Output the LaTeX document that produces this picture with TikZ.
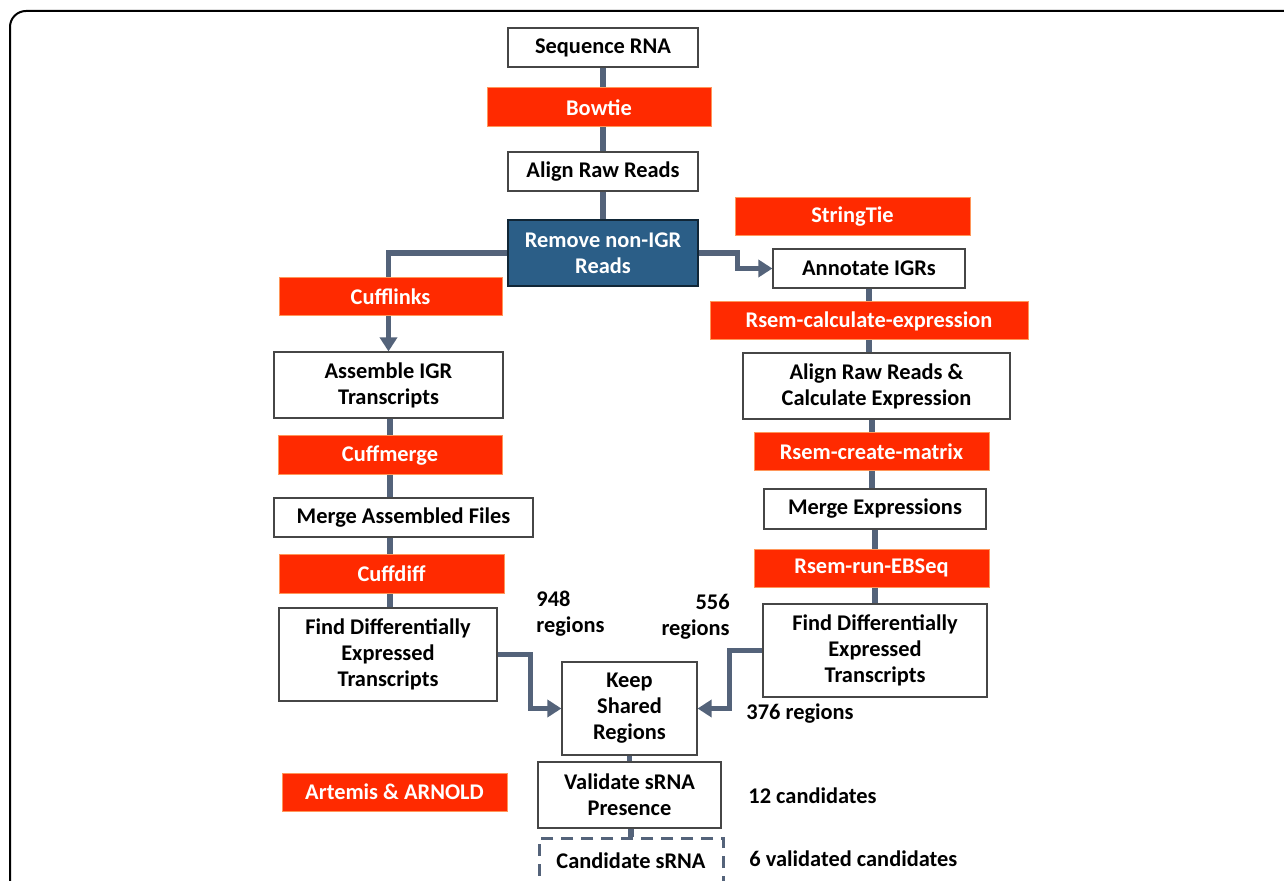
\documentclass[tikz,border=0pt]{standalone}
\usepackage{fontspec}
\setmainfont{Carlito}
\usetikzlibrary{arrows.meta}
\definecolor{redbox}{RGB}{255,42,0}
\definecolor{redborder}{RGB}{255,150,90}
\definecolor{bluebox}{RGB}{43,94,135}
\definecolor{linkcol}{RGB}{84,99,122}
\definecolor{boxline}{RGB}{70,70,70}
\begin{document}
\begin{tikzpicture}[x=0.5pt,y=-0.5pt,
 every node/.style={font=\bfseries\fontsize{11.2}{13}\selectfont, inner sep=0pt, align=center},
 wbox/.style={draw=boxline, line width=0.6pt, fill=white},
 rbox/.style={fill=redbox, draw=redborder, line width=0.5pt, text=white},
 bluebx/.style={fill=bluebox, draw=black!60!bluebox, line width=0.6pt, text=white},
 dbox/.style={draw=linkcol, line width=1.5pt, dash pattern=on 6pt off 4pt, fill=white},
 link/.style={draw=linkcol, line width=2.6pt},
 arr/.style={link, -{Triangle[length=7pt,width=8.5pt]}}]
\useasboundingbox (0,0) rectangle (1284,881);
\draw[line width=1pt, rounded corners=8pt] (10,11) rectangle (1330,930);

% white / blue boxes
\node[wbox, minimum width=95pt, minimum height=19.5pt] (seq) at (603,47.5) {Sequence RNA};
\node[wbox, minimum width=95pt, minimum height=19.5pt] (align) at (603,171.5) {Align Raw Reads};
\node[bluebx, minimum width=95pt, minimum height=33pt] (remove) at (603,253) {Remove non-IGR\\Reads};
\node[wbox, minimum width=96pt, minimum height=19.5pt] (annot) at (869,268.5) {Annotate IGRs};
\node[wbox, minimum width=133.5pt, minimum height=33pt] (aligncalc) at (876.5,386) {Align Raw Reads \&\\Calculate Expression};
\node[wbox, minimum width=111pt, minimum height=20pt] (mergeexpr) at (875,509) {Merge Expressions};
\node[wbox, minimum width=112pt, minimum height=46.5pt] (findR) at (875,650.5) {Find Differentially\\Expressed\\Transcripts};
\node[wbox, minimum width=114.5pt, minimum height=33pt] (assemble) at (388.5,385) {Assemble IGR\\Transcripts};
\node[wbox, minimum width=129.5pt, minimum height=19.5pt] (mergeasm) at (403.5,517.5) {Merge Assembled Files};
\node[wbox, minimum width=109pt, minimum height=46.5pt] (findL) at (388,654.5) {Find Differentially\\Expressed\\Transcripts};
\node[wbox, minimum width=67.5pt, minimum height=46.5pt] (keep) at (629.5,708.5) {Keep\\Shared\\Regions};
\node[wbox, minimum width=91.5pt, minimum height=33pt] (validate) at (629.5,795) {Validate sRNA\\Presence};
\node[dbox, minimum width=92pt, minimum height=23pt] (cand) at (631,861) {Candidate sRNA};

\coordinate (xl) at (390,0);
\coordinate (xr) at (872,0);

% connectors
\draw[link] (seq) -- (align);
\draw[link] (align) -- (remove);
\draw[arr] (remove.west) -| (assemble.north);
\draw[arr] (remove.east) -- ([xshift=19.5pt]remove.east) |- (annot.west);
\draw[link] (annot.south) -- (annot.south |- aligncalc.north);
\draw[link] (xr |- aligncalc.south) -- (xr |- mergeexpr.north);
\draw[link] (mergeexpr) -- (findR);
\draw[arr] (findR.west) -- ([xshift=-16.5pt]findR.west) |- (keep.east);
\draw[arr] (findL.east) -- ([xshift=16.5pt]findL.east) |- (keep.west);
\draw[link] (xl |- assemble.south) -- (xl |- mergeasm.north);
\draw[link] (xl |- mergeasm.south) -- (xl |- findL.north);
\draw[link] (keep) -- (validate);
\draw[link] (cand.north |- validate.south) -- (cand.north);

% red tool boxes
\node[rbox, minimum width=112pt, minimum height=19.5pt] (bowtie) at (599,107.5) {Bowtie};
\node[rbox, minimum width=111.5pt, minimum height=19pt] (cufflinks) at (390.5,297) {Cufflinks};
\node[rbox, minimum width=117.5pt, minimum height=19pt] (stringtie) at (852.5,217) {StringTie};
\node[rbox, minimum width=159pt, minimum height=19pt] (rsemcalc) at (869,321) {Rsem-calculate-expression};
\node[rbox, minimum width=117.5pt, minimum height=19pt] (rsemcreate) at (871.5,452) {Rsem-create-matrix};
\node[rbox, minimum width=117.5pt, minimum height=19pt] (ebseq) at (871.5,568) {Rsem-run-EBSeq};
\node[rbox, minimum width=112pt, minimum height=19.5pt] (cuffmerge) at (390,455.5) {Cuffmerge};
\node[rbox, minimum width=112.5pt, minimum height=19.5pt] (cuffdiff) at (391.5,573.5) {Cuffdiff};
\node[rbox, minimum width=112.5pt, minimum height=19pt] (artemis) at (394.5,792) {Artemis \& ARNOLD};

% labels
\node[anchor=north west, align=left] (n948) at (536,591) {948\\regions};
\node[anchor=north east, align=right] (n556) at (730,594) {556\\regions};
\node[anchor=west] (n376) at (746,714) {376 regions};
\node[anchor=west] (n12) at (748,796) {12 candidates};
\node[anchor=west] (n6) at (749,859) {6 validated candidates};
\end{tikzpicture}
\end{document}
